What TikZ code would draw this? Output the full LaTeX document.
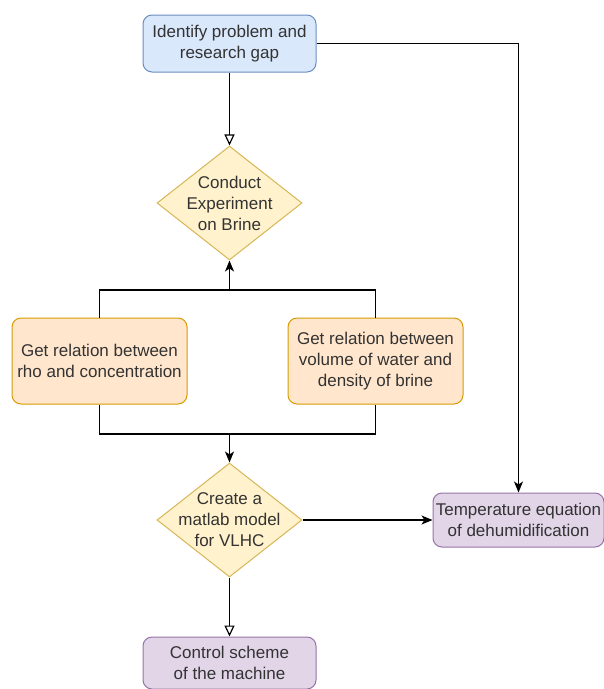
\documentclass[tikz,border=0pt]{standalone}
\usepackage{fontspec}
\setmainfont{Liberation Sans}
\usetikzlibrary{arrows.meta,positioning,shapes.geometric}

\definecolor{bluefill}{HTML}{DAE8FC}
\definecolor{blueline}{HTML}{6C8EBF}
\definecolor{yellowfill}{HTML}{FFF2CC}
\definecolor{yellowline}{HTML}{D6B656}
\definecolor{orangefill}{HTML}{FFE6CC}
\definecolor{orangeline}{HTML}{D79B00}
\definecolor{purplefill}{HTML}{E1D5E7}
\definecolor{purpleline}{HTML}{9673A6}
\definecolor{ink}{HTML}{333333}

\begin{document}
\begin{tikzpicture}[x=1pt,y=-1pt,line width=1.2pt,
    font=\fontsize{17}{21}\selectfont,
    block/.style={rectangle,rounded corners=9pt,draw,line width=1pt,
      align=center,text=ink,inner sep=2pt},
    terminal/.style={block,fill=bluefill,draw=blueline,
      minimum width=173pt,minimum height=57pt},
    process/.style={block,fill=orangefill,draw=orangeline,
      minimum width=175pt,minimum height=86pt},
    result/.style={block,fill=purplefill,draw=purpleline,
      minimum width=171pt,minimum height=54pt},
    decision/.style={diamond,aspect=1,draw=yellowline,fill=yellowfill,
      line width=1pt,align=center,text=ink,inner sep=-14pt,
      minimum width=145pt,minimum height=114pt},
    open/.style={-{Triangle[open,length=11pt,width=10pt]}},
    solid tip/.style={-{Stealth[length=11pt,width=9pt,inset=3pt]}}]

  \useasboundingbox (0,0) rectangle (604,689);

  \node[terminal]  (gap)                           at (229.5,43.5) {Identify problem and\\research gap};
  \node[decision]  (exp)   [below=73pt of gap]                   {Conduct\\Experiment\\on Brine};
  \node[process]   (rho)                           at (99.5,361) {Get relation between\\rho and concentration};
  \node[process]   (vol)   [right=100pt of rho]                  {Get relation between\\volume of water and\\density of brine};
  \node[decision]  (model)                         at (229.5,520) {Create a\\matlab model\\for VLHC};
  \node[result]    (temp)  [right=130pt of model]                {Temperature equation\\of dehumidification};
  \node[result,minimum width=173pt,minimum height=52pt]
                   (ctrl)  [below=59pt of model]                 {Control scheme\\of the machine};

  \coordinate (joinup)   at (229.5,290);
  \coordinate (joindown) at (229.5,434);

  % main line
  \draw[open]      (gap) -- (exp);
  \draw            (rho.north) |- (joinup) -| (vol.north);
  \draw[solid tip] (joinup) -- (exp.south);
  \draw            (rho.south) |- (joindown) -| (vol.south);
  \draw[solid tip] (joindown) -- (model.north);
  \draw[open]      (model) -- (ctrl);

  % side branch
  \draw[solid tip] (gap.east) -| (temp.north);
  \draw[solid tip] (model) -- (temp);
\end{tikzpicture}
\end{document}
